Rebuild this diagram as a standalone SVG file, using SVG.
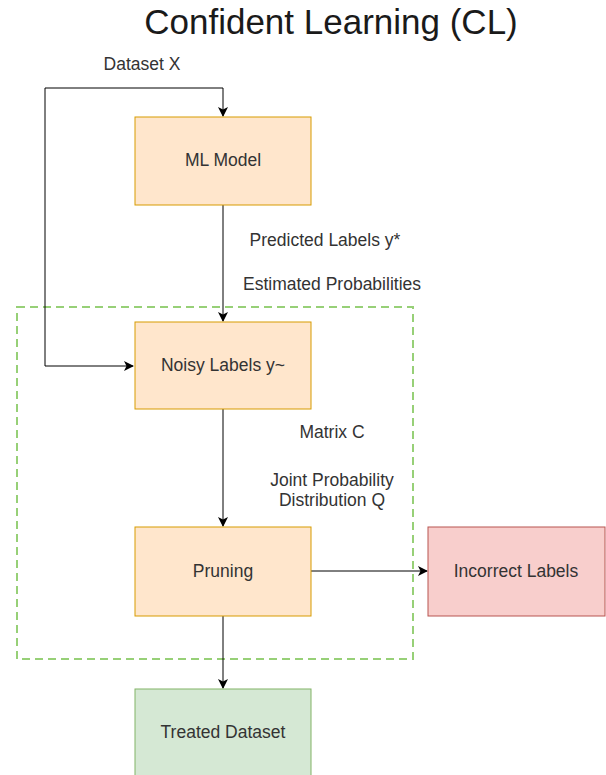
<svg xmlns="http://www.w3.org/2000/svg" width="606" height="775" viewBox="0 0 606 775">
  <defs>
    <style>
      .txt { font-family: "Liberation Sans", Arial, sans-serif; font-size: 17.5px; fill: #333333; text-anchor: middle; dominant-baseline: central; }
      .title { font-family: "Liberation Sans", Arial, sans-serif; font-size: 35px; fill: #1a1a1a; text-anchor: middle; }
      .orange { fill: #FFE6CC; stroke: #D79B00; stroke-width: 1; }
      .red { fill: #F8CECC; stroke: #B85450; stroke-width: 1; }
      .green { fill: #D5E8D4; stroke: #82B366; stroke-width: 1; }
      .edge { fill: none; stroke: #000000; stroke-width: 1; }
    </style>
    <marker id="arrow" viewBox="0 0 10 10" refX="9" refY="5" markerWidth="10" markerHeight="10" markerUnits="userSpaceOnUse" orient="auto">
      <path d="M0,0 L10,5 L0,10 L2.5,5 Z" fill="#000000"/>
    </marker>
  </defs>
  <rect width="606" height="775" fill="#ffffff"/>

  <text class="title" x="331" y="34">Confident Learning (CL)</text>

  <!-- CL region boundary -->
  <rect id="cl-region" x="17" y="307" width="396" height="352" fill="none" stroke="#97D077" stroke-width="2" stroke-dasharray="8 5"/>

  <g id="connectors">
    <path class="edge" d="M45,366 L45,88 L223,88 L223,116" marker-end="url(#arrow)"/>
    <path class="edge" d="M45,366 L133,366" marker-end="url(#arrow)"/>
    <path class="edge" d="M223,205 L223,321" marker-end="url(#arrow)"/>
    <path class="edge" d="M223,409 L223,526" marker-end="url(#arrow)"/>
    <path class="edge" d="M311,571 L427,571" marker-end="url(#arrow)"/>
    <path class="edge" d="M223,616 L223,688" marker-end="url(#arrow)"/>
    <text class="txt" x="142" y="64">Dataset X</text>
    <text class="txt" x="325" y="240">Predicted Labels y*</text>
    <text class="txt" x="332" y="284">Estimated Probabilities</text>
    <text class="txt" x="332" y="432">Matrix C</text>
    <text class="txt" x="332" y="480">Joint Probability</text>
    <text class="txt" x="332" y="500">Distribution Q</text>
  </g>

  <g id="ml-model">
    <rect class="orange" x="135" y="117" width="176" height="88"/>
    <text class="txt" x="223" y="160">ML Model</text>
  </g>
  <g id="noisy-labels">
    <rect class="orange" x="135" y="322" width="176" height="87"/>
    <text class="txt" x="223" y="365">Noisy Labels y~</text>
  </g>
  <g id="pruning">
    <rect class="orange" x="135" y="527" width="176" height="89"/>
    <text class="txt" x="223" y="571">Pruning</text>
  </g>
  <g id="incorrect-labels">
    <rect class="red" x="428" y="527" width="177" height="89"/>
    <text class="txt" x="516" y="571">Incorrect Labels</text>
  </g>
  <g id="treated-dataset">
    <rect class="green" x="135" y="689" width="176" height="90"/>
    <text class="txt" x="223" y="732">Treated Dataset</text>
  </g>
</svg>
